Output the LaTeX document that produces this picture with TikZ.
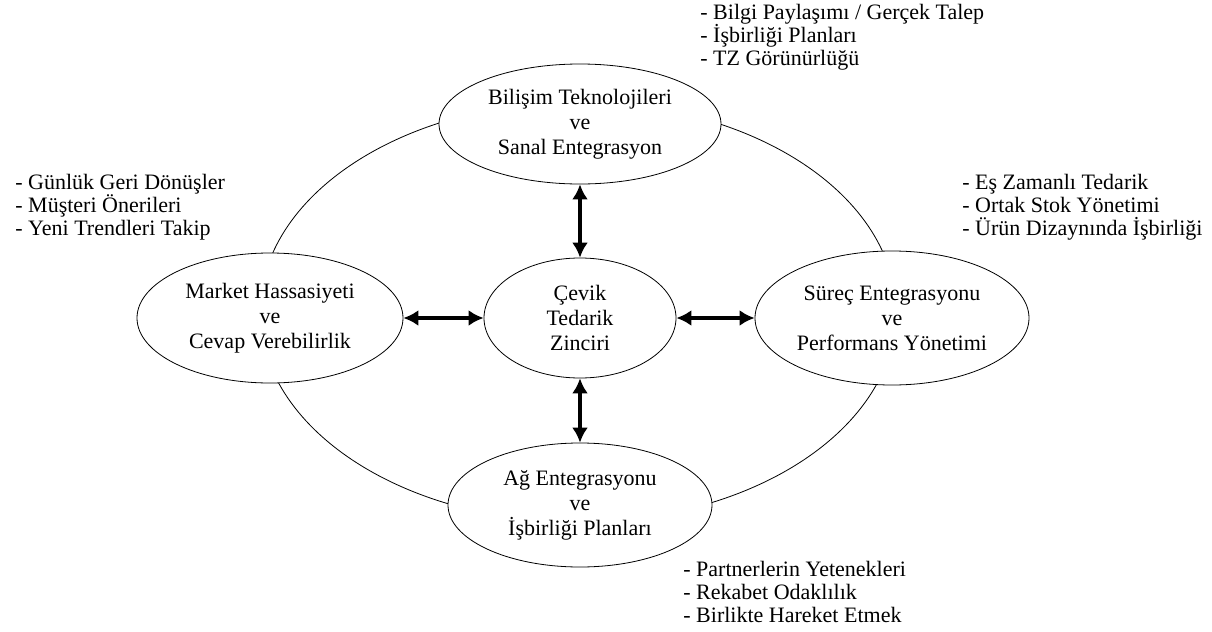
\documentclass[tikz,border=0pt]{standalone}
\usepackage{fontspec}
\setmainfont{Liberation Serif}
\usetikzlibrary{shapes.geometric,arrows.meta}
\tikzset{
  part/.style={ellipse,draw,fill=white,inner sep=0pt,align=center,font=\fontsize{11}{12.5}\selectfont},
  notes/.style={anchor=west,align=left,inner sep=0pt,font=\fontsize{11}{11.5}\selectfont},
  link/.style={line width=2pt,{Latex[length=7.5pt,width=8pt]}-{Latex[length=7.5pt,width=8pt]}}
}
\begin{document}
\begin{tikzpicture}[x=0.5pt,y=-0.5pt]
        \useasboundingbox (0,0) rectangle (1212,632);

        % Outer ring
        \draw (578,312) ellipse [x radius=159pt, y radius=105pt];

        % Centre
        \node[part,minimum width=96pt,minimum height=60pt] (cevik) at (580,318) {Çevik\\Tedarik\\Zinciri};

        % Four parts on the ring
        \node[part,minimum width=141pt,minimum height=60pt] (bilisim) at (580,124) {Bilişim Teknolojileri\\ve\\Sanal Entegrasyon};
        \node[part,minimum width=133pt,minimum height=65pt] (market) at (270,318) {Market Hassasiyeti\\ve\\Cevap Verebilirlik};
        \node[part,minimum width=137pt,minimum height=67pt] (surec) at (892,318) {Süreç Entegrasyonu\\ve\\Performans Yönetimi};
        \node[part,minimum width=132pt,minimum height=62pt] (ag) at (580,505) {Ağ Entegrasyonu\\ve\\İşbirliği Planları};

        % Links to the centre
        \draw[link] (bilisim.south) -- (cevik.north);
        \draw[link] (market.east) -- (cevik.west);
        \draw[link] (cevik.east) -- (surec.west);
        \draw[link] (cevik.south) -- (ag.north);

        % Notes
        \node[notes] (notesb) at (700,37) {- Bilgi Paylaşımı / Gerçek Talep\\- İşbirliği Planları\\- TZ Görünürlüğü};
        \node[notes] (notesm) at (15,207) {- Günlük Geri Dönüşler\\- Müşteri Önerileri\\- Yeni Trendleri Takip};
        \node[notes] (notess) at (962,207) {- Eş Zamanlı Tedarik\\- Ortak Stok Yönetimi\\- Ürün Dizaynında İşbirliği};
        \node[notes] (notesa) at (683,592) {- Partnerlerin Yetenekleri\\- Rekabet Odaklılık\\- Birlikte Hareket Etmek};
    \end{tikzpicture}
\end{document}
